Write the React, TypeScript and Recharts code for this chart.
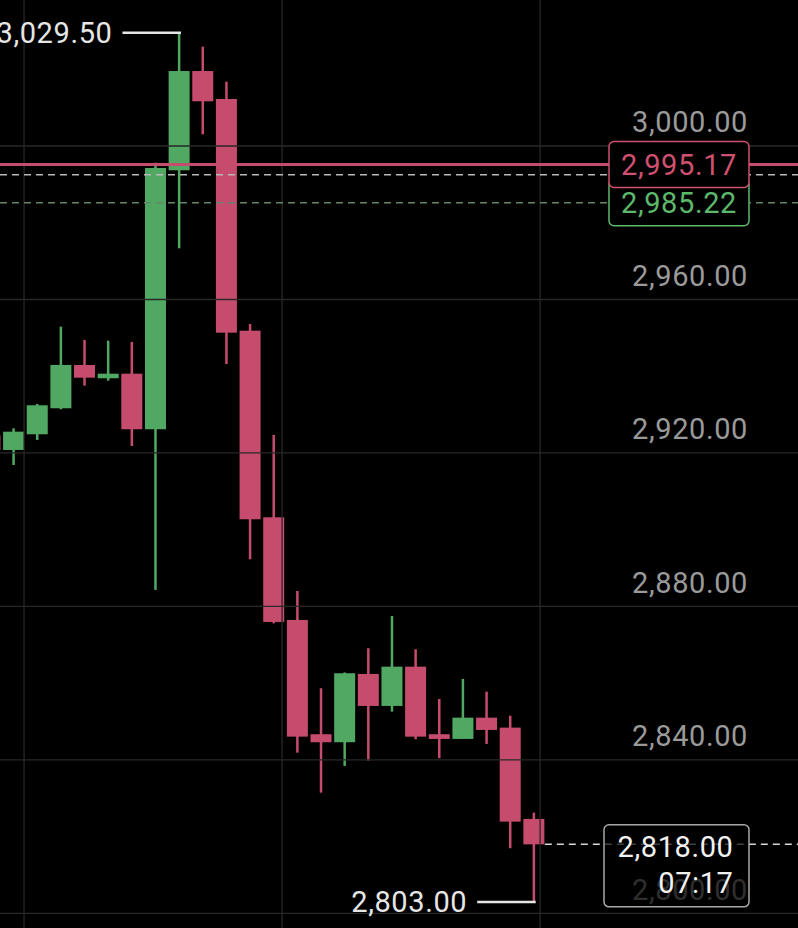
import React from 'react';
import { ComposedChart, Bar, XAxis, YAxis, ReferenceLine, ReferenceDot } from 'recharts';

// ---- data ----
const candleIndex = [-1, 0, 1, 2, 3, 4, 5, 6, 7, 8, 9, 10, 11, 12, 13, 14, 15, 16, 17, 18, 19, 20, 21, 22];
const openPrices = [2924.6, 2920.78, 2924.87, 2931.65, 2942.93, 2939.47, 2940.66, 2926.18, 2993.67, 3019.54, 3012.25, 2951.87, 2903.24, 2876.48, 2846.7, 2844.61, 2862.41, 2854.07, 2864.31, 2846.7, 2845.47, 2851.02, 2848.42, 2824.63];
const highPrices = [2925.5, 2926.44, 2932.77, 2952.91, 2949.45, 2949.26, 2948.93, 2995.65, 3029.5, 3025.88, 3016.76, 2953.62, 2924.69, 2884.04, 2858.68, 2862.8, 2869.11, 2877.52, 2868.85, 2855.9, 2861.11, 2857.8, 2851.54, 2826.27];
const lowPrices = [2919.0, 2916.87, 2923.39, 2931.39, 2937.54, 2938.84, 2921.82, 2884.3, 2973.34, 3003.05, 2943.19, 2892.3, 2875.6, 2841.9, 2831.48, 2838.44, 2839.82, 2852.59, 2845.39, 2840.44, 2845.47, 2844.17, 2816.99, 2803.0];
const closePrices = [2920.8, 2925.55, 2932.43, 2942.93, 2939.62, 2940.66, 2926.18, 2994.27, 3019.54, 3011.65, 2951.35, 2902.72, 2875.96, 2846.07, 2844.61, 2862.59, 2854.07, 2864.31, 2846.07, 2845.47, 2851.02, 2847.82, 2823.92, 2818.0];

const priceGridValues = [3000, 2960, 2920, 2880, 2840, 2800];
const priceTickLabels = ['3,000.00', '2,960.00', '2,920.00', '2,880.00', '2,840.00', '2,800.00'];
const timeGridValues = [0.43, 11.34, 22.25];

const askPrice = 2995.17;
const askLabel = '2,995.17';
const bidPrice = 2985.22;
const bidLabel = '2,985.22';
const markPrice = 2992.52;
const lastPrice = 2818.0;
const lastPriceLabel = '2,818.00';
const countdownLabel = '07:17';
const highIndex = 7;
const highValue = 3029.5;
const highLabel = '3,029.50';
const lowIndex = 22;
const lowValue = 2803.0;
const lowLabel = '2,803.00';

const X_DOMAIN: [number, number] = [-0.588, 33.155];
const Y_DOMAIN: [number, number] = [2796.2, 3038.05];

const candles = candleIndex.map((i, k) => ({
  i,
  open: openPrices[k],
  high: highPrices[k],
  low: lowPrices[k],
  close: closePrices[k],
}));

// ---- styles ----
const GREEN = '#50a862';
const RED = '#c64c6d';
const GRID = '#282828';
const AXIS_TEXT = '#9a9a9a';
const FONT = 'Roboto, "Noto Sans", sans-serif';
const LS = 0.6;

const CandleShape = (props: any) => {
  const { x, y, width, height, payload } = props;
  if (!payload) return null;
  const { open, close, high, low } = payload;
  const h = Math.abs(height);
  const top = Math.min(y, y + height);
  const ppu = h / (high - low);
  const cx = x + width / 2;
  const bTop = Math.max(open, close);
  const bBot = Math.min(open, close);
  const bodyY = top + (high - bTop) * ppu;
  const bodyH = Math.max(2, (bTop - bBot) * ppu);
  const color = close >= open ? GREEN : RED;
  return (
    <g>
      <rect x={cx - 1.25} y={top} width={2.5} height={h} fill={color} />
      <rect x={cx - 10.5} y={bodyY} width={21} height={bodyH} fill={color} />
    </g>
  );
};

const axisLabelShape = (text: string) => (p: any) => (
  <text x={p.cx - 50} y={p.cy - 13.7} textAnchor="end" fill={AXIS_TEXT} fontSize={29} letterSpacing={LS} fontFamily={FONT}>
    {text}
  </text>
);

const priceBoxShape = (text: string, color: string) => (p: any) => (
  <g>
    <rect x={p.cx - 189} y={p.cy - 23} width={140} height={46} rx={5} ry={5} fill="#000" stroke={color} strokeWidth={1.5} />
    <text x={p.cx - 119} y={p.cy + 10.4} textAnchor="middle" fill={color} fontSize={29} letterSpacing={LS} fontFamily={FONT}>
      {text}
    </text>
  </g>
);

const lastPriceShape = (p: any) => (
  <g>
    <rect x={p.cx - 194} y={p.cy - 19.5} width={145} height={82} rx={5} ry={5} fill="rgba(0,0,0,0.7)" stroke="#a8a8a8" strokeWidth={1.5} />
    <text x={p.cx - 64.5} y={p.cy + 13} textAnchor="end" fill="#f2f2f2" fontSize={29} letterSpacing={LS} fontFamily={FONT}>
      {lastPriceLabel}
    </text>
    <text x={p.cx - 64.5} y={p.cy + 49} textAnchor="end" fill="#f2f2f2" fontSize={29} letterSpacing={LS} fontFamily={FONT}>
      {countdownLabel}
    </text>
  </g>
);

const extremeShape = (text: string) => (p: any) => (
  <g>
    <line x1={p.cx - 57} x2={p.cx + 1.5} y1={p.cy} y2={p.cy} stroke="#e6e6e6" strokeWidth={2.5} />
    <text x={p.cx - 67} y={p.cy + 10} textAnchor="end" fill="#e6e6e6" fontSize={29} letterSpacing={LS} fontFamily={FONT}>
      {text}
    </text>
  </g>
);

export default function App() {
  return (
    <div style={{ position: 'fixed', left: 0, top: 0, width: 798, height: 928, background: '#000' }}>
      <ComposedChart width={798} height={928} data={candles} margin={{ top: 0, right: 0, bottom: 0, left: 0 }}>
        <XAxis type="number" dataKey="i" domain={X_DOMAIN} allowDataOverflow hide />
        <YAxis type="number" domain={Y_DOMAIN} allowDataOverflow hide />
        {priceGridValues.map((v) => (
          <ReferenceLine key={'h' + v} y={v} stroke={GRID} strokeWidth={1.3} />
        ))}
        {timeGridValues.map((v) => (
          <ReferenceLine key={'v' + v} x={v} stroke={GRID} strokeWidth={1.3} />
        ))}
        {priceGridValues.map((v, k) => (
          <ReferenceDot key={'l' + v} x={X_DOMAIN[1]} y={v} r={0} ifOverflow="visible" shape={axisLabelShape(priceTickLabels[k])} />
        ))}
        <Bar dataKey={(d: any) => [d.low, d.high]} barSize={21} shape={CandleShape} isAnimationActive={false} />
        <ReferenceLine y={bidPrice} stroke="#62856a" strokeWidth={1.5} strokeDasharray="7 5" />
        <ReferenceLine y={markPrice} stroke="#b8b8b8" strokeWidth={1.5} strokeDasharray="7 5" />
        <ReferenceLine y={askPrice} stroke={RED} strokeWidth={3} />
        <ReferenceLine
          segment={[
            { x: 22.45, y: lastPrice },
            { x: X_DOMAIN[1], y: lastPrice },
          ]}
          stroke="#d8d8d8"
          strokeWidth={1.5}
          strokeDasharray="7 5"
        />
        <ReferenceDot x={X_DOMAIN[1]} y={bidPrice} r={0} ifOverflow="visible" shape={priceBoxShape(bidLabel, '#5cb86b')} />
        <ReferenceDot x={X_DOMAIN[1]} y={askPrice} r={0} ifOverflow="visible" shape={priceBoxShape(askLabel, '#d0506f')} />
        <ReferenceDot x={X_DOMAIN[1]} y={lastPrice} r={0} ifOverflow="visible" shape={lastPriceShape} />
        <ReferenceDot x={highIndex} y={highValue} r={0} ifOverflow="visible" shape={extremeShape(highLabel)} />
        <ReferenceDot x={lowIndex} y={lowValue} r={0} ifOverflow="visible" shape={extremeShape(lowLabel)} />
      </ComposedChart>
    </div>
  );
}
